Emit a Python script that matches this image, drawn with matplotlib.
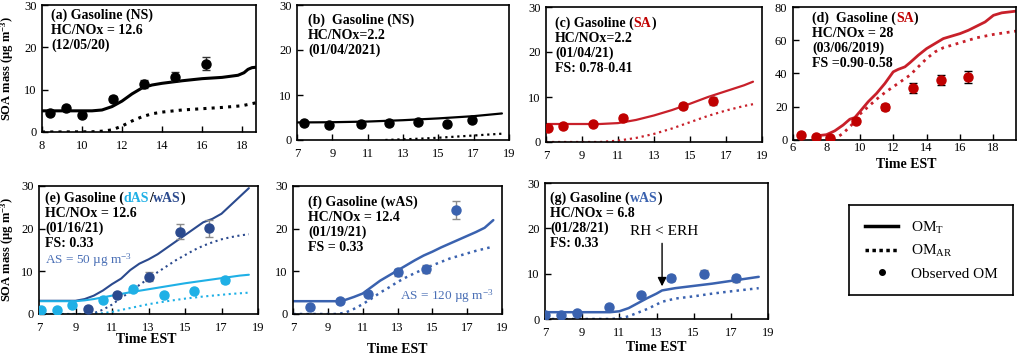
import matplotlib
matplotlib.use('Agg')
import matplotlib.pyplot as plt
from matplotlib.lines import Line2D

plt.rcParams['font.family'] = ['Liberation Serif', 'DejaVu Serif']
plt.rcParams['mathtext.fontset'] = 'custom'
plt.rcParams['mathtext.rm'] = 'Liberation Serif'
plt.rcParams['mathtext.bf'] = 'Liberation Serif:bold'
plt.rcParams['mathtext.it'] = 'Liberation Serif:italic'
plt.rcParams['xtick.direction'] = 'in'
plt.rcParams['ytick.direction'] = 'in'

# ---- data ----
# (a) gasoline NS 12/05/20
a_obs_t = [8.4, 9.2, 10.0, 11.55, 13.1, 14.65, 16.2]
a_obs = [4.5, 5.6, 3.9, 7.9, 11.3, 13.1, 16.1]
a_err = [0.4, 0.5, 0.4, 0.6, 0.9, 1.1, 1.5]
a_t = [8, 10.5, 11, 11.5, 12, 12.5, 13, 13.5, 14, 15, 16, 17, 17.8, 18.1, 18.3, 18.5, 18.7]
a_tot = [5.0, 5.0, 5.2, 6.0, 7.3, 9.0, 10.4, 11.1, 11.5, 12.1, 12.6, 12.9, 13.4, 14.0, 14.8, 15.2, 15.3]
a_ar_t = [8, 10.5, 11, 11.5, 12, 12.5, 13, 13.5, 14, 15, 16, 17, 18, 18.7]
a_ar = [0, 0.05, 0.2, 0.5, 1.4, 2.6, 3.6, 4.3, 4.7, 5.2, 5.5, 5.8, 6.2, 6.9]

# (b) gasoline NS 01/04/2021
b_obs_t = [7.4, 8.8, 10.6, 12.2, 13.85, 15.5, 16.9]
b_obs = [3.7, 3.3, 3.6, 3.7, 3.9, 3.6, 4.4]
b_t = [7, 9, 11, 13, 15, 17, 18.6]
b_tot = [3.9, 3.95, 4.1, 4.4, 4.8, 5.3, 5.9]
b_ar_t = [12, 13, 14, 15, 16, 17, 18.6]
b_ar = [0.0, 0.15, 0.3, 0.5, 0.75, 1.0, 1.4]

# (c) gasoline SA 01/04/21
c_obs_t = [7.1, 7.95, 9.6, 11.3, 14.6, 16.25]
c_obs = [3.1, 3.5, 4.1, 5.4, 8.0, 9.1]
c_err = [0.3, 0.3, 0.4, 0.5, 0.7, 0.8]
c_t = [7, 10, 11, 12, 13, 14, 15, 16, 17, 18, 18.5]
c_tot = [4.0, 4.0, 4.2, 4.9, 5.9, 7.1, 8.5, 10.0, 11.3, 12.6, 13.4]
c_ar = [0, 0, 0.3, 0.9, 1.8, 3.0, 4.4, 5.8, 7.0, 8.0, 8.4]

# (d) gasoline SA 03/06/2019
d_obs_t = [6.45, 7.35, 8.2, 9.8, 11.5, 13.2, 14.85, 16.5]
d_obs = [3.0, 2.0, 1.4, 11.4, 20.0, 31.2, 36.0, 37.8]
d_err = [0.6, 0.6, 0.6, 1.0, 1.8, 3.0, 3.2, 3.5]
d_t = [7.4, 8, 8.5, 9, 9.4, 9.7, 10, 10.5, 11, 11.5, 12, 12.3, 12.7, 13, 13.5, 14, 14.5,
       15, 15.5, 16, 16.5, 17, 17.5, 18, 18.5, 19.35]
d_tot = [2.5, 3.2, 5.5, 9.0, 12.5, 13.5, 17.0, 23.0, 28.0, 34.0, 41.0, 42.5, 44.0, 46.5, 51.0,
         55.0, 58.0, 61.0, 62.5, 64.0, 66.0, 68.5, 71.0, 75.0, 76.5, 77.5]
d_ar_t = [8.4, 9, 9.5, 10, 10.5, 11, 11.5, 12, 12.5, 13, 13.5, 14, 14.5, 15, 16, 17, 18, 19.35]
d_ar = [0, 4, 9, 15.5, 20, 24.5, 28.5, 32, 35.5, 39, 44, 49, 53, 55.5, 58.5, 61.5, 63.5, 65.5]

# (e) gasoline dAS / wAS 01/16/21
e_w_t = [9.68, 11.3, 13.0, 14.7, 16.3]
e_w = [1.1, 4.4, 8.75, 19.3, 20.1]
e_w_err = [0.3, 0.5, 1.0, 1.7, 2.0]
e_d_t = [7.13, 8.0, 8.83, 10.5, 12.15, 13.83, 15.5, 17.17]
e_d = [0.94, 0.94, 2.1, 3.3, 5.9, 4.45, 5.5, 8.0]
e_d_err = [0.2, 0.2, 0.3, 0.3, 0.5, 0.4, 0.4, 0.7]
e_t = [7, 9, 9.5, 10, 10.5, 11, 11.5, 12, 12.5, 13, 13.5, 14, 14.5, 15, 15.5, 16, 16.5,
       17, 17.5, 18, 18.5]
e_w_tot = [3.1, 3.1, 3.5, 4.3, 5.5, 7.0, 8.3, 10.3, 11.8, 12.8, 14.0, 15.5, 17.0, 18.5,
           20.0, 21.5, 22.3, 23.5, 25.5, 27.5, 29.5]
e_w_ar = [0, 0, 0, 0.2, 1.0, 2.2, 3.8, 5.2, 6.8, 8.3, 9.8, 11.2, 12.6, 13.8, 15.0, 16.0,
          16.8, 17.5, 18.0, 18.4, 18.7]
e_d_tot = [3.0, 3.0, 3.2, 3.5, 3.9, 4.3, 4.7, 5.1, 5.45, 5.8, 6.15, 6.5, 6.85, 7.2, 7.5,
           7.8, 8.1, 8.4, 8.7, 9.0, 9.2]
e_d_ar = [0, 0, 0, 0, 0.2, 0.5, 0.95, 1.4, 1.85, 2.3, 2.65, 3.0, 3.3, 3.6, 3.85, 4.1,
          4.3, 4.5, 4.7, 4.85, 5.0]

# (f) gasoline wAS 01/19/21
f_obs_t = [8.0, 9.68, 11.3, 13.03, 14.66, 16.34]
f_obs = [1.7, 3.05, 4.7, 9.8, 10.5, 24.4]
f_err = [0.3, 0.4, 0.5, 0.8, 0.9, 2.2]
f_t = [7, 9.5, 10, 10.5, 11, 11.5, 12, 12.5, 13, 13.5, 14, 14.5, 15, 15.5, 16, 16.5,
       17, 17.5, 18, 18.5]
f_tot = [3.0, 3.0, 3.3, 4.0, 4.8, 6.3, 7.8, 9.0, 10.2, 11.4, 12.6, 13.7, 14.6, 15.6,
         16.5, 17.4, 18.3, 19.2, 20.2, 22.0]
f_ar = [0, 0, 0.3, 1.2, 2.3, 3.6, 5.0, 6.2, 7.5, 8.6, 9.6, 10.5, 11.4, 12.2, 13.0, 13.6,
        14.2, 14.8, 15.3, 15.8]

# (g) gasoline wAS 01/28/21
g_obs_t = [7.0, 7.88, 8.74, 10.42, 12.15, 13.8, 15.55, 17.3]
g_obs = [0.9, 0.9, 1.25, 2.7, 5.2, 9.0, 10.0, 9.0]
g_err = [0.2, 0.2, 0.2, 0.3, 0.4, 0.7, 0.8, 0.8]
g_t = [7, 10.5, 11, 11.5, 12, 12.5, 13, 13.3, 14, 15, 16, 17, 18.5]
g_tot = [1.5, 1.5, 1.7, 2.4, 3.5, 4.6, 5.6, 6.3, 6.8, 7.3, 7.8, 8.4, 9.3]
g_ar = [0, 0, 0.1, 0.6, 1.4, 2.2, 3.2, 3.8, 4.5, 5.0, 5.6, 6.1, 6.8]
g_erh_t = 13.3

# ---- colours ----
RED = '#C00000'
REDLINE = '#C8202A'
NAVY = '#2B4A8E'
LBLUE = '#1FB0E6'
BLUE = '#3A62AF'
ASBLUE = '#4A6FB5'
GREY = '#8C8C8C'

W, H = 1017, 355
fig = plt.figure(figsize=(W / 100, H / 100), dpi=100)


def panel(l, r, t, b):
    return fig.add_axes([l / W, 1 - b / H, (r - l) / W, (b - t) / H])


def style(ax, xlim, xticks, ylim, yticks, xpad=6):
    ax.set_xlim(*xlim)
    ax.set_ylim(*ylim)
    ax.set_xticks(xticks)
    ax.set_yticks(yticks)
    ax.tick_params(labelsize=9, length=4, width=1, pad=4)
    ax.tick_params(axis='x', pad=xpad)
    for s in ax.spines.values():
        s.set_linewidth(1.2)


def header(ax, x, y, lines, size=10):
    # lines: list of lists of (text, colour); x,y are figure pixels of first line
    for i, parts in enumerate(lines):
        prev = ax.annotate(parts[0][0], xy=(x / W, 1 - (y + i * 15.2) / H),
                           xycoords='figure fraction', ha='left', va='center',
                           fontsize=size, fontweight='bold', color=parts[0][1],
                           annotation_clip=False)
        for txt, col in parts[1:]:
            prev = ax.annotate(txt, xy=(1, 0), xycoords=prev, ha='left', va='bottom',
                               fontsize=size, fontweight='bold', color=col,
                               annotation_clip=False)


def model(ax, t, tot, t2, ar, col, lw=2):
    ax.plot(t, tot, color=col, lw=lw, solid_capstyle='round')
    ax.plot(t2, ar, color=col, lw=lw, linestyle=(0, (1, 1.7)))


def obs(ax, t, y, err, col, ecol=GREY):
    ax.errorbar(t, y, yerr=err, fmt='o', ms=6.5, color=col, ecolor=ecol,
                elinewidth=1, capsize=3, capthick=1, zorder=5)


ylab = 'SOA mass (\u00b5g m$^{\\mathbf{-3}}$)'

# (a)
ax = panel(42, 256, 5, 132)
model(ax, a_t, a_tot, a_ar_t, a_ar, 'black', lw=2.2)
obs(ax, a_obs_t, a_obs, a_err, 'black', ecol='#333333')
style(ax, (8, 18.7), range(8, 19, 2), (0, 30), range(0, 31, 10))
ax.set_ylabel(ylab, fontsize=9, fontweight='bold')
ax.yaxis.set_label_coords(-0.121, 0.5)
header(ax, 51, 15, [[('(a) Gasoline (NS)', 'black')], [('HC/NOx = 12.6', 'black')],
                    [('(12/05/20)', 'black')]])

# (b)
ax = panel(297, 509, 5, 140)
model(ax, b_t, b_tot, b_ar_t, b_ar, 'black', lw=1.6)
obs(ax, b_obs_t, b_obs, [0.3] * len(b_obs), 'black', ecol='#333333')
style(ax, (7, 19), range(7, 20, 2), (0, 30), range(0, 31, 10))
header(ax, 308, 20, [[('(b)  Gasoline (NS)', 'black')], [('HC/NOx=2.2', 'black')],
                     [('(01/04/2021)', 'black')]])

# (c)
ax = panel(546, 762, 7, 142)
model(ax, c_t, c_tot, c_t, c_ar, REDLINE, lw=1.6)
obs(ax, c_obs_t, c_obs, c_err, RED)
style(ax, (7, 19), range(7, 20, 2), (0, 30), range(0, 31, 10))
header(ax, 555, 23, [[('(c) Gasoline (', 'black'), ('SA', RED), (')', 'black')],
                     [('HC/NOx=2.2', 'black')], [('(01/04/21)', 'black')],
                     [('FS: 0.78-0.41', 'black')]])

# (d)
ax = panel(793, 1016, 7, 140)
model(ax, d_t, d_tot, d_ar_t, d_ar, REDLINE, lw=2)
obs(ax, d_obs_t, d_obs, d_err, RED, ecol='black')
style(ax, (6, 19.35), range(6, 19, 2), (0, 80), range(0, 81, 20), xpad=1.5)
ax.set_xlabel('Time EST', fontsize=10, fontweight='bold')
ax.xaxis.set_label_coords(0.51, -0.135)
header(ax, 812, 18, [[('(d)  Gasoline (', 'black'), ('SA', RED), (')', 'black')],
                     [('HC/NOx = 28', 'black')], [('(03/06/2019)', 'black')],
                     [('FS =0.90-0.58', 'black')]])

# (e)
ax = panel(39, 258, 186, 314)
model(ax, e_t, e_w_tot, e_t, e_w_ar, NAVY, lw=1.5)
model(ax, e_t, e_d_tot, e_t, e_d_ar, LBLUE, lw=1.5)
obs(ax, e_d_t, e_d, e_d_err, LBLUE)
obs(ax, e_w_t, e_w, e_w_err, NAVY)
style(ax, (7, 19), range(7, 20, 2), (0, 30), range(0, 31, 10))
ax.set_ylabel(ylab, fontsize=9, fontweight='bold')
ax.yaxis.set_label_coords(-0.107, 0.5)
ax.set_xlabel('Time EST', fontsize=10, fontweight='bold')
ax.xaxis.set_label_coords(0.49, -0.145)
header(ax, 45, 198, [[('(e) Gasoline (', 'black'), ('dAS', LBLUE), ('/', 'black'),
                      ('wAS', NAVY), (')', 'black')],
                     [('HC/NOx = 12.6', 'black')], [('(01/16/21)', 'black')],
                     [('FS: 0.33', 'black')]])
ax.annotate('AS = 50 \u00b5g m$^{\\mathrm{-3}}$', xy=(45 / W, 1 - 260 / H),
            xycoords='figure fraction', ha='left', va='center', fontsize=9.5,
            color=ASBLUE)

# (f)
ax = panel(293, 502, 186, 314)
model(ax, f_t, f_tot, f_t, f_ar, BLUE, lw=1.8)
obs(ax, f_obs_t, f_obs, f_err, BLUE)
style(ax, (7, 19), range(7, 20, 2), (0, 30), range(0, 31, 10))
ax.set_xlabel('Time EST', fontsize=10, fontweight='bold')
ax.xaxis.set_label_coords(0.5, -0.23)
header(ax, 308, 202, [[('(f) Gasoline (wAS)', 'black')], [('HC/NOx = 12.4', 'black')],
                      [('(01/19/21)', 'black')], [('FS = 0.33', 'black')]])
ax.annotate('AS = 120 \u00b5g m$^{\\mathrm{-3}}$', xy=(494 / W, 1 - 296 / H),
            xycoords='figure fraction', ha='right', va='center', fontsize=9.5,
            color=ASBLUE)

# (g)
ax = panel(545, 768, 183, 319)
model(ax, g_t, g_tot, g_t, g_ar, BLUE, lw=1.8)
obs(ax, g_obs_t, g_obs, g_err, BLUE)
style(ax, (7, 19), range(7, 20, 2), (0, 30), range(0, 31, 10))
ax.set_xlabel('Time EST', fontsize=10, fontweight='bold')
ax.xaxis.set_label_coords(0.5, -0.16)
header(ax, 550, 198, [[('(g) Gasoline (', 'black'), ('wAS', BLUE), (')', 'black')],
                      [('HC/NOx = 6.8', 'black')], [('(01/28/21)', 'black')],
                      [('FS: 0.33', 'black')]])
ax.annotate('', xy=(g_erh_t, 6.6), xytext=(g_erh_t, 17.3),
            arrowprops=dict(arrowstyle='-|>', color='black', lw=1, mutation_scale=13))
ax.text(g_erh_t + 0.1, 19.3, 'RH < ERH', ha='center', va='center', fontsize=11)

# legend box
lax = panel(849, 1013, 205, 295)
lax.set_xticks([])
lax.set_yticks([])
for s in lax.spines.values():
    s.set_linewidth(1.2)
handles = [Line2D([], [], color='black', lw=2.5),
           Line2D([], [], color='black', lw=2.5, linestyle=(0, (1, 1))),
           Line2D([], [], color='black', lw=0, marker='o', ms=4)]
lax.legend(handles, ['OM$_{\\mathrm{T}}$', 'OM$_{\\mathrm{AR}}$', 'Observed OM'],
           loc='center', frameon=False, fontsize=11, handlelength=2.2,
           handletextpad=0.8, labelspacing=0.5)

fig.savefig('out.png', dpi=100)
